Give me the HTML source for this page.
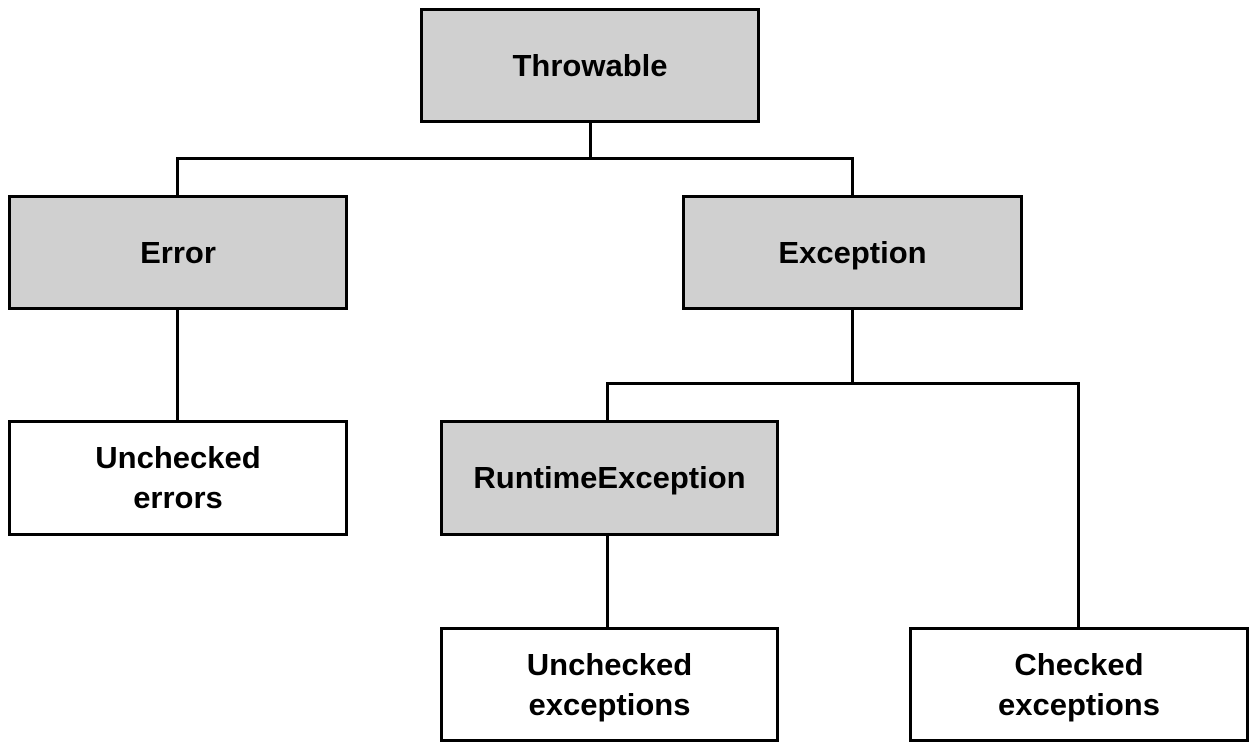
<!DOCTYPE html>
<html><head><style>
body{margin:0;width:1255px;height:749px;background:#fff;position:relative;overflow:hidden;font-family:"Liberation Sans",Arial,sans-serif;}
.b{position:absolute;box-sizing:border-box;border:3px solid #000;display:flex;align-items:center;justify-content:center;text-align:center;font-weight:bold;font-size:31px;line-height:40px;}
.g{background:#d0d0d0}
.l{position:absolute;background:#000}
</style></head><body>
<div class="l" style="left:589px;top:121px;width:3px;height:39px"></div>
<div class="l" style="left:176px;top:157px;width:678px;height:3px"></div>
<div class="l" style="left:176px;top:157px;width:3px;height:40px"></div>
<div class="l" style="left:851px;top:157px;width:3px;height:40px"></div>
<div class="l" style="left:176px;top:308px;width:3px;height:114px"></div>
<div class="l" style="left:851px;top:308px;width:3px;height:77px"></div>
<div class="l" style="left:606px;top:382px;width:474px;height:3px"></div>
<div class="l" style="left:606px;top:382px;width:3px;height:40px"></div>
<div class="l" style="left:1077px;top:382px;width:3px;height:247px"></div>
<div class="l" style="left:606px;top:533px;width:3px;height:96px"></div>
<div class="b g" style="left:420px;top:8px;width:340px;height:115px">Throwable</div>
<div class="b g" style="left:8px;top:195px;width:340px;height:115px">Error</div>
<div class="b g" style="left:682px;top:195px;width:341px;height:115px">Exception</div>
<div class="b" style="left:8px;top:420px;width:340px;height:116px">Unchecked<br>errors</div>
<div class="b g" style="left:440px;top:420px;width:339px;height:116px">RuntimeException</div>
<div class="b" style="left:440px;top:627px;width:339px;height:115px">Unchecked<br>exceptions</div>
<div class="b" style="left:909px;top:627px;width:340px;height:115px">Checked<br>exceptions</div>
</body></html>
